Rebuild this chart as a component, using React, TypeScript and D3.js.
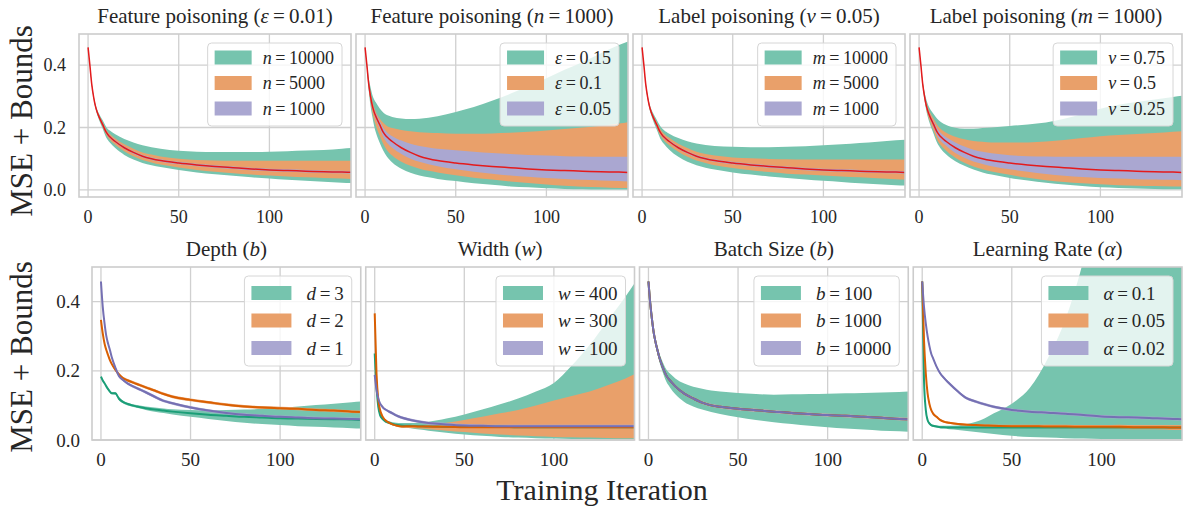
import React, { useEffect, useRef } from "react";
import * as d3 from "d3";

const ITER = [0, 1, 2, 3, 4, 5, 6, 8, 10, 12, 15, 20, 25, 30, 35, 40, 50, 60, 70, 80, 90, 100, 110, 120, 130, 140, 145];

// top row: the mean MSE curve is the same model in every panel
const TOP_MSE = [.457, .400, .340, .300, .270, .250, .235, .210, .185, .170, .155, .135, .120, .108, .100, .094, .086, .080, .075, .071, .067, .064, .062, .060, .058, .057, .056];
const THIN_HW = [0, .001, .002, .002, .003, .003, .003, .004, .004, .004, .004, .004, .004, .004, .004, .004, .004, .004, .004, .004, .004, .004, .004, .004, .004, .004, .004];

// Feature poisoning (eps = 0.01)
const FPE_N10000_HI = [.457, .402, .344, .305, .277, .258, .245, .224, .202, .190, .178, .163, .152, .143, .137, .132, .125, .122, .121, .121, .121, .122, .124, .126, .128, .132, .134];
const FPE_N10000_LO = [.457, .398, .336, .295, .263, .242, .225, .197, .168, .152, .134, .112, .097, .086, .079, .073, .064, .056, .050, .045, .040, .036, .032, .029, .026, .023, .022];
const FPE_N5000_HI = [.457, .401, .342, .302, .273, .254, .240, .217, .193, .179, .165, .146, .132, .120, .113, .107, .100, .096, .094, .093, .093, .093, .093, .093, .093, .093, .093];
const FPE_N5000_LO = [.457, .399, .338, .298, .267, .246, .230, .203, .177, .161, .145, .124, .108, .096, .088, .081, .072, .064, .058, .053, .049, .046, .043, .040, .038, .036, .035];

// Feature poisoning (n = 1000)
const FPN_E15_HI = [.457, .410, .360, .330, .305, .290, .280, .262, .248, .240, .234, .229, .227, .228, .231, .236, .250, .266, .286, .308, .333, .358, .385, .410, .438, .465, .476];
const FPN_E15_LO = [.457, .390, .320, .270, .235, .205, .183, .152, .126, .107, .088, .068, .055, .046, .040, .035, .028, .021, .016, .011, .008, .005, .003, .002, .001, .001, .001];
const FPN_E10_HI = [.457, .400, .345, .310, .285, .265, .250, .230, .215, .205, .198, .192, .188, .185, .183, .182, .180, .180, .181, .183, .186, .190, .195, .200, .206, .213, .217];
const FPN_E10_LO = [.457, .395, .330, .285, .250, .225, .205, .175, .148, .128, .110, .090, .077, .068, .061, .056, .047, .039, .033, .027, .022, .017, .013, .010, .008, .006, .006];
const FPN_E05_HI = [.457, .400, .342, .305, .277, .258, .245, .222, .200, .185, .172, .158, .148, .141, .136, .132, .127, .122, .118, .115, .112, .110, .108, .107, .106, .106, .106];
const FPN_E05_LO = [.457, .400, .338, .295, .263, .242, .225, .198, .170, .152, .135, .115, .100, .090, .082, .076, .066, .058, .052, .046, .042, .038, .035, .032, .030, .028, .027];

// Label poisoning (nu = 0.05)
const LPN_M10000_HI = [.457, .402, .345, .307, .279, .260, .247, .226, .205, .192, .180, .166, .156, .149, .144, .141, .138, .137, .137, .138, .140, .143, .146, .150, .154, .159, .161];
const LPN_M10000_LO = [.457, .398, .335, .293, .261, .240, .223, .194, .165, .148, .129, .106, .090, .079, .071, .065, .056, .049, .043, .038, .033, .029, .025, .021, .018, .015, .014];
const LPN_M5000_HI = [.457, .401, .342, .303, .274, .255, .241, .218, .195, .181, .167, .148, .134, .122, .115, .110, .104, .101, .099, .098, .097, .097, .097, .097, .097, .097, .097];
const LPN_M5000_LO = [.457, .399, .338, .297, .266, .245, .229, .202, .175, .159, .143, .122, .106, .094, .086, .079, .070, .063, .057, .052, .049, .046, .043, .040, .037, .034, .033];

// Label poisoning (m = 1000)
const LPM_NU75_HI = [.457, .405, .350, .315, .290, .272, .260, .243, .228, .218, .208, .199, .196, .196, .198, .200, .205, .210, .216, .228, .243, .260, .273, .282, .290, .298, .302];
const LPM_NU75_LO = [.457, .397, .333, .288, .254, .230, .211, .180, .150, .132, .113, .092, .077, .065, .056, .049, .038, .030, .023, .017, .012, .008, .006, .004, .003, .002, .002];
const LPM_NU50_HI = [.457, .402, .345, .308, .280, .262, .249, .228, .208, .195, .183, .170, .162, .157, .154, .152, .152, .152, .155, .160, .166, .172, .176, .179, .182, .186, .188];
const LPM_NU50_LO = [.457, .398, .335, .292, .259, .237, .219, .190, .160, .143, .125, .103, .087, .075, .066, .059, .048, .039, .031, .025, .021, .018, .015, .013, .012, .011, .011];
const LPM_NU25_HI = [.457, .401, .342, .304, .275, .256, .242, .219, .197, .182, .169, .152, .139, .129, .122, .117, .111, .108, .107, .106, .106, .106, .106, .106, .106, .106, .106];
const LPM_NU25_LO = [.457, .399, .338, .296, .265, .244, .228, .201, .173, .157, .141, .118, .103, .091, .083, .076, .066, .058, .051, .045, .041, .038, .036, .034, .033, .032, .031];

// Depth
const DEPTH_D3 = [.183, .172, .164, .155, .147, .140, .135, .135, .120, .111, .104, .097, .092, .088, .085, .082, .077, .073, .070, .067, .065, .063, .062, .061, .060, .059, .058];
const DEPTH_D3_HI = [.186, .175, .167, .158, .150, .143, .138, .139, .125, .115, .108, .101, .097, .094, .091, .089, .087, .086, .087, .088, .090, .093, .097, .101, .105, .109, .111];
const DEPTH_D3_LO = [.180, .169, .161, .152, .144, .137, .132, .131, .115, .107, .100, .093, .087, .082, .078, .074, .067, .061, .055, .050, .046, .043, .040, .038, .036, .034, .033];
const DEPTH_D2 = [.347, .308, .279, .260, .245, .231, .220, .203, .190, .180, .172, .162, .152, .143, .133, .125, .116, .109, .102, .097, .094, .092, .090, .087, .085, .082, .081];
const DEPTH_D1 = [.458, .385, .337, .300, .278, .260, .240, .210, .185, .175, .163, .150, .138, .125, .113, .106, .094, .085, .078, .073, .070, .067, .065, .063, .062, .061, .060];

// Width
const WIDTH_W400 = [.250, .154, .096, .072, .063, .058, .054, .050, .046, .044, .042, .041, .040, .039, .039, .038, .038, .038, .038, .037, .037, .037, .037, .037, .037, .037, .037];
const WIDTH_W400_HI = [.250, .156, .099, .076, .067, .062, .058, .054, .051, .050, .049, .049, .050, .053, .057, .062, .074, .088, .103, .120, .140, .165, .215, .275, .345, .415, .453];
const WIDTH_W400_LO = [.250, .152, .093, .068, .059, .054, .050, .046, .042, .040, .037, .034, .030, .027, .024, .021, .016, .012, .009, .007, .005, .004, .003, .003, .002, .002, .002];
const WIDTH_W300 = [.366, .193, .116, .087, .072, .063, .057, .050, .045, .042, .039, .040, .039, .039, .038, .038, .037, .037, .037, .037, .037, .037, .037, .037, .037, .037, .037];
const WIDTH_W300_HI = [.366, .195, .118, .090, .075, .066, .060, .053, .048, .045, .043, .043, .043, .044, .047, .050, .058, .067, .077, .087, .100, .114, .127, .140, .158, .178, .190];
const WIDTH_W300_LO = [.366, .191, .114, .084, .069, .060, .054, .047, .042, .039, .036, .035, .033, .031, .029, .027, .023, .019, .016, .013, .011, .009, .008, .007, .006, .005, .005];
const WIDTH_W100 = [.188, .145, .120, .106, .098, .092, .088, .082, .077, .071, .065, .058, .053, .049, .047, .045, .042, .041, .040, .040, .040, .040, .040, .040, .040, .040, .040];

// Batch size (the three mean curves coincide)
const BATCH_MEAN = [.458, .395, .347, .308, .282, .260, .240, .210, .186, .172, .155, .134, .120, .108, .100, .096, .090, .086, .082, .078, .075, .072, .070, .067, .064, .061, .060];
const BATCH_B100_HI = [.458, .398, .352, .315, .290, .270, .252, .225, .204, .192, .178, .163, .154, .148, .143, .140, .136, .133, .131, .132, .133, .134, .135, .136, .137, .139, .140];
const BATCH_B100_LO = [.458, .392, .342, .301, .274, .250, .228, .195, .168, .152, .132, .110, .097, .088, .081, .075, .066, .058, .051, .046, .041, .037, .033, .030, .027, .025, .024];

// Learning rate
const LR_A10 = [.458, .173, .087, .058, .048, .043, .041, .039, .037, .037, .036, .036, .036, .036, .036, .036, .036, .036, .036, .036, .036, .036, .036, .036, .036, .036, .036];
const LR_A10_HI = [.458, .175, .090, .061, .051, .046, .044, .042, .041, .041, .041, .042, .046, .053, .063, .077, .105, .150, .235, .350, .520, .750, 1.00, 1.30, 1.60, 2.00, 2.20];
const LR_A10_LO = [.458, .171, .084, .055, .045, .040, .038, .036, .034, .033, .031, .029, .026, .023, .020, .017, .012, .009, .007, .005, .004, .003, .003, .002, .002, .002, .002];
const LR_A05 = [.458, .289, .193, .135, .105, .087, .077, .067, .058, .053, .050, .046, .044, .043, .042, .041, .040, .040, .039, .039, .038, .038, .038, .037, .037, .036, .036];
const LR_A05_HW = [0, .001, .002, .002, .003, .003, .003, .003, .003, .003, .003, .003, .003, .003, .003, .004, .004, .004, .005, .005, .005, .005, .006, .006, .006, .007, .007];
const LR_A02 = [.458, .385, .337, .300, .272, .250, .237, .212, .193, .180, .164, .140, .120, .111, .103, .096, .087, .082, .079, .076, .072, .068, .066, .065, .063, .061, .060];

const X_TICKS = [0, 50, 100];
const Y_TICKS = [0, 0.2, 0.4];

const FILL = { green: "#76c4ae", orange: "#e9a06a", purple: "#aaa7d1" };
const STROKE = { green: "#1b9e77", orange: "#d95f02", purple: "#7570b3" };
const RED = "#e41a1c";
const TXT = "#262626";
const GRID = "#d0d0d0";
const FONT = "'Liberation Serif', 'DejaVu Serif', serif";

type Seg = [string, boolean];
interface Band { lo: number[]; hi: number[]; fill: string }
interface Line { values: number[]; color: string; width: number }
interface Panel { title: Seg[]; sym: string; labels: string[]; bands: Band[]; lines: Line[] }

const lohi = (lo: number[], hi: number[], fill: string): Band => ({ lo, hi, fill });
const around = (mean: number[], hw: number[], fill: string): Band => ({
  lo: mean.map((v, i) => v - hw[i]),
  hi: mean.map((v, i) => v + hw[i]),
  fill,
});
const eq = (v: string) => `\u2009=\u2009${v}`;
const redLine = [{ values: TOP_MSE, color: RED, width: 1.5 }];

const TOP_PANELS: Panel[] = [
  {
    title: [["Feature poisoning (", false], ["ε", true], [eq("0.01)"), false]],
    sym: "n", labels: ["10000", "5000", "1000"],
    bands: [lohi(FPE_N10000_LO, FPE_N10000_HI, FILL.green), lohi(FPE_N5000_LO, FPE_N5000_HI, FILL.orange), around(TOP_MSE, THIN_HW, FILL.purple)],
    lines: redLine,
  },
  {
    title: [["Feature poisoning (", false], ["n", true], [eq("1000)"), false]],
    sym: "ε", labels: ["0.15", "0.1", "0.05"],
    bands: [lohi(FPN_E15_LO, FPN_E15_HI, FILL.green), lohi(FPN_E10_LO, FPN_E10_HI, FILL.orange), lohi(FPN_E05_LO, FPN_E05_HI, FILL.purple)],
    lines: redLine,
  },
  {
    title: [["Label poisoning (", false], ["ν", true], [eq("0.05)"), false]],
    sym: "m", labels: ["10000", "5000", "1000"],
    bands: [lohi(LPN_M10000_LO, LPN_M10000_HI, FILL.green), lohi(LPN_M5000_LO, LPN_M5000_HI, FILL.orange), around(TOP_MSE, THIN_HW, FILL.purple)],
    lines: redLine,
  },
  {
    title: [["Label poisoning (", false], ["m", true], [eq("1000)"), false]],
    sym: "ν", labels: ["0.75", "0.5", "0.25"],
    bands: [lohi(LPM_NU75_LO, LPM_NU75_HI, FILL.green), lohi(LPM_NU50_LO, LPM_NU50_HI, FILL.orange), lohi(LPM_NU25_LO, LPM_NU25_HI, FILL.purple)],
    lines: redLine,
  },
];

const trio = (g: number[], o: number[], p: number[]): Line[] => [
  { values: g, color: STROKE.green, width: 2 },
  { values: o, color: STROKE.orange, width: 2 },
  { values: p, color: STROKE.purple, width: 2 },
];

const BOTTOM_PANELS: Panel[] = [
  {
    title: [["Depth (", false], ["b", true], [")", false]],
    sym: "d", labels: ["3", "2", "1"],
    bands: [lohi(DEPTH_D3_LO, DEPTH_D3_HI, FILL.green), around(DEPTH_D2, THIN_HW, FILL.orange), around(DEPTH_D1, THIN_HW, FILL.purple)],
    lines: trio(DEPTH_D3, DEPTH_D2, DEPTH_D1),
  },
  {
    title: [["Width (", false], ["w", true], [")", false]],
    sym: "w", labels: ["400", "300", "100"],
    bands: [lohi(WIDTH_W400_LO, WIDTH_W400_HI, FILL.green), lohi(WIDTH_W300_LO, WIDTH_W300_HI, FILL.orange), around(WIDTH_W100, THIN_HW, FILL.purple)],
    lines: trio(WIDTH_W400, WIDTH_W300, WIDTH_W100),
  },
  {
    title: [["Batch Size (", false], ["b", true], [")", false]],
    sym: "b", labels: ["100", "1000", "10000"],
    bands: [lohi(BATCH_B100_LO, BATCH_B100_HI, FILL.green), around(BATCH_MEAN, THIN_HW, FILL.orange), around(BATCH_MEAN, THIN_HW, FILL.purple)],
    lines: trio(BATCH_MEAN, BATCH_MEAN, BATCH_MEAN),
  },
  {
    title: [["Learning Rate (", false], ["α", true], [")", false]],
    sym: "α", labels: ["0.1", "0.05", "0.02"],
    bands: [lohi(LR_A10_LO, LR_A10_HI, FILL.green), around(LR_A05, LR_A05_HW, FILL.orange), around(LR_A02, THIN_HW, FILL.purple)],
    lines: trio(LR_A10, LR_A05, LR_A02),
  },
];

const ROWS = [
  {
    panels: TOP_PANELS, left: 79, right: 1182, top: 34, bottom: 197, gap: 5,
    yDomain: [-0.023, 0.5], tickFont: 18, tickPad: 13, titleY: 22.5, ylabelY: 121,
    leg: { font: 18, patchW: 37, patchH: 14, first: 14.5, step: 25.5, height: 83, textOff: 55 },
  },
  {
    panels: BOTTOM_PANELS, left: 92, right: 1182, top: 267, bottom: 440, gap: 5,
    yDomain: [0, 0.5], tickFont: 19, tickPad: 12, titleY: 256, ylabelY: 357,
    leg: { font: 19, patchW: 40, patchH: 14, first: 17, step: 27.5, height: 90, textOff: 62 },
  },
];

export default function App() {
  const svgRef = useRef<SVGSVGElement>(null);

  useEffect(() => {
    if (!svgRef.current) return;
    const svg = d3.select(svgRef.current);
    svg.selectAll("*").remove();
    const defs = svg.append("defs");

    ROWS.forEach((row, r) => {
      const pw = (row.right - row.left - 3 * row.gap) / 4;

      row.panels.forEach((p, k) => {
        const x0 = row.left + k * (pw + row.gap);
        const x = d3.scaleLinear().domain([-5, 145]).range([x0, x0 + pw]);
        const y = d3.scaleLinear().domain(row.yDomain).range([row.bottom, row.top]);
        const clipId = `clip-${r}-${k}`;
        defs.append("clipPath").attr("id", clipId)
          .append("rect").attr("x", x0).attr("y", row.top).attr("width", pw).attr("height", row.bottom - row.top);

        const g = svg.append("g");

        // grid
        g.selectAll(".gx").data(X_TICKS).enter().append("line")
          .attr("x1", (d) => x(d)).attr("x2", (d) => x(d))
          .attr("y1", row.top).attr("y2", row.bottom)
          .attr("stroke", GRID).attr("stroke-width", 1.3);
        g.selectAll(".gy").data(Y_TICKS).enter().append("line")
          .attr("x1", x0).attr("x2", x0 + pw)
          .attr("y1", (d) => y(d)).attr("y2", (d) => y(d))
          .attr("stroke", GRID).attr("stroke-width", 1.3);

        const plot = g.append("g").attr("clip-path", `url(#${clipId})`);
        const area = d3.area<number>()
          .x((_, i) => x(ITER[i]))
          .curve(d3.curveMonotoneX);
        p.bands.forEach((b) => {
          plot.append("path")
            .attr("d", area.y0((_, i) => y(b.lo[i])).y1((_, i) => y(b.hi[i]))(b.lo))
            .attr("fill", b.fill);
        });
        const line = d3.line<number>()
          .x((_, i) => x(ITER[i]))
          .y((d) => y(d))
          .curve(d3.curveMonotoneX);
        p.lines.forEach((l) => {
          plot.append("path").attr("d", line(l.values))
            .attr("fill", "none").attr("stroke", l.color).attr("stroke-width", l.width)
            .attr("stroke-linejoin", "round");
        });

        // spines
        g.append("rect").attr("x", x0).attr("y", row.top).attr("width", pw).attr("height", row.bottom - row.top)
          .attr("fill", "none").attr("stroke", "#cccccc").attr("stroke-width", 1.6);

        // x tick labels
        g.selectAll(".tx").data(X_TICKS).enter().append("text")
          .attr("x", (d) => x(d)).attr("y", row.bottom + 26)
          .attr("text-anchor", "middle").attr("font-size", row.tickFont)
          .attr("font-family", FONT).attr("fill", TXT).text((d) => d3.format("d")(d));

        if (k === 0) {
          g.selectAll(".ty").data(Y_TICKS).enter().append("text")
            .attr("x", x0 - row.tickPad).attr("y", (d) => y(d)).attr("dy", "0.35em")
            .attr("text-anchor", "end").attr("font-size", row.tickFont)
            .attr("font-family", FONT).attr("fill", TXT).text((d) => d3.format(".1f")(d));
          g.append("text")
            .attr("transform", `translate(32,${row.ylabelY}) rotate(-90)`)
            .attr("text-anchor", "middle").attr("font-size", 31)
            .attr("font-family", FONT).attr("fill", TXT).text("MSE + Bounds");
        }

        // title
        const t = g.append("text").attr("x", x0 + pw / 2).attr("y", row.titleY)
          .attr("text-anchor", "middle").attr("font-size", 21)
          .attr("font-family", FONT).attr("fill", TXT);
        p.title.forEach(([s, it]) => t.append("tspan").attr("font-style", it ? "italic" : "normal").text(s));

        // legend
        const L = row.leg;
        const lg = g.append("g");
        const box = lg.append("rect").attr("rx", 4).attr("fill", "white").attr("fill-opacity", 0.8)
          .attr("stroke", "#d6d6d6").attr("stroke-width", 1);
        let maxW = 0;
        const fills = [FILL.green, FILL.orange, FILL.purple];
        p.labels.forEach((lab, i) => {
          const cy = L.first + i * L.step;
          lg.append("rect").attr("x", 7).attr("y", cy - L.patchH / 2)
            .attr("width", L.patchW).attr("height", L.patchH).attr("fill", fills[i]);
          const tx = lg.append("text").attr("x", L.textOff).attr("y", cy).attr("dy", "0.35em")
            .attr("font-size", L.font).attr("font-family", FONT).attr("fill", TXT);
          tx.append("tspan").attr("font-style", "italic").text(p.sym);
          tx.append("tspan").text(eq(lab));
          maxW = Math.max(maxW, (tx.node() as SVGTextElement).getComputedTextLength());
        });
        const bw = L.textOff + maxW + 8;
        box.attr("x", 0).attr("y", 0).attr("width", bw).attr("height", L.height);
        lg.attr("transform", `translate(${x0 + pw - 9 - bw},${row.top + 9})`);
      });
    });

    svg.append("text").attr("x", 602).attr("y", 500).attr("text-anchor", "middle")
      .attr("font-size", 30).attr("font-family", FONT).attr("fill", TXT).text("Training Iteration");
  }, []);

  return (
    <svg
      ref={svgRef}
      width={1183}
      height={508}
      style={{ position: "absolute", left: 0, top: 0, background: "white" }}
    />
  );
}
